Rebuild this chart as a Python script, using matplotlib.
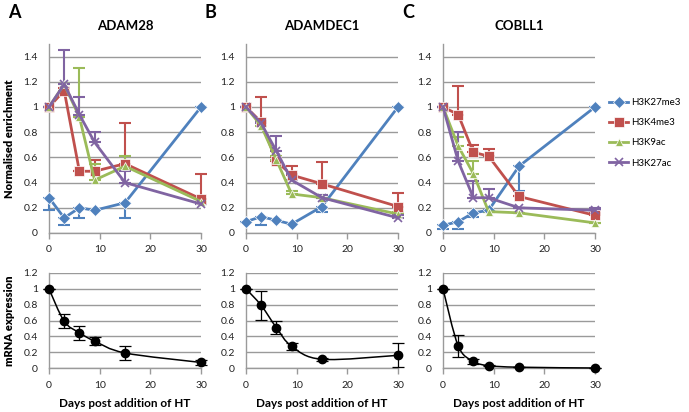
import matplotlib
matplotlib.use("Agg")
import matplotlib.pyplot as plt
from matplotlib.path import Path
from matplotlib.patches import PathPatch
import numpy as np

plt.rcParams['font.family'] = ['Lato', 'DejaVu Sans']

# days after HT
days = [0, 3, 6, 9, 15, 30]

genes = ['ADAM28', 'ADAMDEC1', 'COBLL1']
letters = ['A', 'B', 'C']
marks = ['H3K27me3', 'H3K4me3', 'H3K9ac', 'H3K27ac']

# normalised enrichment (per gene, per mark)
adam28_k27me3 = [0.28, 0.12, 0.20, 0.18, 0.24, 1.0]
adam28_k4me3 = [1.0, 1.13, 0.49, 0.49, 0.55, 0.27]
adam28_k9ac = [1.0, 1.18, 0.92, 0.42, 0.53, 0.25]
adam28_k27ac = [1.0, 1.18, 0.94, 0.72, 0.40, 0.23]

adamdec1_k27me3 = [0.09, 0.13, 0.10, 0.07, 0.21, 1.0]
adamdec1_k4me3 = [1.0, 0.88, 0.57, 0.46, 0.39, 0.21]
adamdec1_k9ac = [1.0, 0.85, 0.58, 0.31, 0.28, 0.15]
adamdec1_k27ac = [1.0, 0.87, 0.65, 0.42, 0.28, 0.12]

cobll1_k27me3 = [0.06, 0.09, 0.16, 0.18, 0.53, 1.0]
cobll1_k4me3 = [1.0, 0.94, 0.64, 0.61, 0.29, 0.14]
cobll1_k9ac = [1.0, 0.69, 0.47, 0.17, 0.16, 0.08]
cobll1_k27ac = [1.0, 0.57, 0.28, 0.28, 0.20, 0.18]

# error bars: H3K27me3 drawn downwards, the others upwards
adam28_k27me3_err = [0.10, 0.06, 0.08, 0.0, 0.12, 0.0]
adam28_k4me3_err = [0.0, 0.02, 0.0, 0.09, 0.32, 0.20]
adam28_k9ac_err = [0.0, 0.0, 0.39, 0.13, 0.08, 0.0]
adam28_k27ac_err = [0.0, 0.27, 0.14, 0.08, 0.09, 0.0]

adamdec1_k27me3_err = [0.0, 0.07, 0.0, 0.0, 0.04, 0.0]
adamdec1_k4me3_err = [0.0, 0.20, 0.03, 0.07, 0.17, 0.11]
adamdec1_k9ac_err = [0.0, 0.02, 0.03, 0.02, 0.02, 0.02]
adamdec1_k27ac_err = [0.0, 0.02, 0.12, 0.05, 0.02, 0.02]

cobll1_k27me3_err = [0.03, 0.06, 0.03, 0.0, 0.20, 0.0]
cobll1_k4me3_err = [0.0, 0.23, 0.06, 0.06, 0.0, 0.02]
cobll1_k9ac_err = [0.0, 0.07, 0.10, 0.0, 0.0, 0.0]
cobll1_k27ac_err = [0.0, 0.23, 0.13, 0.07, 0.0, 0.02]

enrich = [
    [adam28_k27me3, adam28_k4me3, adam28_k9ac, adam28_k27ac],
    [adamdec1_k27me3, adamdec1_k4me3, adamdec1_k9ac, adamdec1_k27ac],
    [cobll1_k27me3, cobll1_k4me3, cobll1_k9ac, cobll1_k27ac],
]
enrich_err = [
    [adam28_k27me3_err, adam28_k4me3_err, adam28_k9ac_err, adam28_k27ac_err],
    [adamdec1_k27me3_err, adamdec1_k4me3_err, adamdec1_k9ac_err, adamdec1_k27ac_err],
    [cobll1_k27me3_err, cobll1_k4me3_err, cobll1_k9ac_err, cobll1_k27ac_err],
]

# mRNA expression
adam28_mrna = [1.0, 0.59, 0.445, 0.34, 0.19, 0.07]
adamdec1_mrna = [1.0, 0.79, 0.51, 0.275, 0.11, 0.16]
cobll1_mrna = [1.0, 0.28, 0.085, 0.03, 0.01, 0.0]
adam28_mrna_err = [0.0, 0.09, 0.09, 0.05, 0.09, 0.03]
adamdec1_mrna_err = [0.0, 0.18, 0.08, 0.045, 0.02, 0.15]
cobll1_mrna_err = [0.0, 0.14, 0.03, 0.01, 0.0, 0.0]
mrna = [adam28_mrna, adamdec1_mrna, cobll1_mrna]
mrna_err = [adam28_mrna_err, adamdec1_mrna_err, cobll1_mrna_err]

colors = ['#4F81BD', '#C0504D', '#9BBB59', '#8064A2']
markers = ['D', 's', '^', 'x']
msizes = [6, 6.5, 6, 6]
grid_col = '#9a9a9a'


def smooth_path(x, y):
    # Excel-style smoothed line as cubic bezier segments
    p = np.column_stack([x, y]).astype(float)
    n = len(p)
    verts = [p[0]]
    codes = [Path.MOVETO]
    for i in range(n - 1):
        p0 = p[i - 1] if i > 0 else p[i]
        p3 = p[i + 2] if i + 2 < n else p[i + 1]
        c1 = p[i] + (p[i + 1] - p0) / 6.0
        c2 = p[i + 1] - (p3 - p[i]) / 6.0
        verts += [c1, c2, p[i + 1]]
        codes += [Path.CURVE4] * 3
    return Path(verts, codes)


def style_axis(ax, ymax, yticks):
    ax.set_xlim(0, 30)
    ax.set_ylim(0, ymax)
    ax.set_xticks([0, 10, 20, 30])
    ax.set_yticks(yticks)
    ax.set_yticklabels(['%g' % t for t in yticks])
    for s in ['top', 'right']:
        ax.spines[s].set_visible(False)
    for s in ['left', 'bottom']:
        ax.spines[s].set_color(grid_col)
        ax.spines[s].set_linewidth(1)
    ax.yaxis.grid(True, color=grid_col, linewidth=1)
    ax.set_axisbelow(True)
    ax.tick_params(axis='y', length=0, pad=8, labelsize=7.5, colors='#222222')
    ax.tick_params(axis='x', length=4, width=1, color=grid_col, pad=5,
                   labelsize=7.5, labelcolor='#222222')


fig = plt.figure(figsize=(6.89, 4.12), dpi=100)
lefts = [49, 246, 443]
width = 152
top_axes = []
for g in range(3):
    ax = fig.add_axes([lefts[g] / 689, 1 - 233 / 412, width / 689, 189 / 412])
    style_axis(ax, 1.5, [0, 0.2, 0.4, 0.6, 0.8, 1, 1.2, 1.4])
    for m in range(4):
        y = enrich[g][m]
        e = enrich_err[g][m]
        if m == 0:
            yerr = [e, [0] * 6]
        else:
            yerr = [[0] * 6, e]
        ax.errorbar(days, y, yerr=yerr, fmt='none', ecolor=colors[m],
                    elinewidth=1.5, capsize=4, capthick=1.5, clip_on=False, zorder=3)
        mew = 1.2 if markers[m] == 'x' else 0.5
        ax.plot(days, y, color=colors[m], lw=2, marker=markers[m], ms=msizes[m],
                mew=mew, mec=colors[m] if markers[m] == 'x' else 'white',
                label=marks[m], clip_on=False, zorder=4)
    ax.set_title(genes[g], fontsize=9.5, fontweight='bold', pad=10)
    fig.text((lefts[g] - 41) / 689, 1 - 13 / 412, letters[g], fontsize=13,
             fontweight='bold', va='center', ha='left')
    top_axes.append(ax)

top_axes[0].set_ylabel('Normalised enrichment', fontsize=8, fontweight='heavy', labelpad=6)

handles, labels = top_axes[2].get_legend_handles_labels()
fig.legend(handles, labels, loc='upper left', bbox_to_anchor=(609 / 689, 1 - 98 / 412),
           frameon=False, fontsize=7, handlelength=2.0, labelspacing=1.15,
           handletextpad=0.3, borderaxespad=0, borderpad=0)

for g in range(3):
    ax = fig.add_axes([lefts[g] / 689, 1 - 368 / 412, width / 689, 95 / 412])
    style_axis(ax, 1.2, [0, 0.2, 0.4, 0.6, 0.8, 1, 1.2])
    ax.add_patch(PathPatch(smooth_path(days, mrna[g]), fill=False, edgecolor='black',
                           lw=1.1, clip_on=False, zorder=3))
    ax.errorbar(days, mrna[g], yerr=mrna_err[g], fmt='none', ecolor='black',
                elinewidth=0.9, capsize=4, capthick=0.9, clip_on=False, zorder=3)
    ax.plot(days, mrna[g], 'o', color='black', ms=6, clip_on=False, zorder=4)
    ax.set_xlabel('Days post addition of HT', fontsize=8.5, fontweight='bold', labelpad=6)
    if g == 0:
        ax.set_ylabel('mRNA expression', fontsize=8, fontweight='heavy', labelpad=6)

fig.savefig('out.png', dpi=100)
